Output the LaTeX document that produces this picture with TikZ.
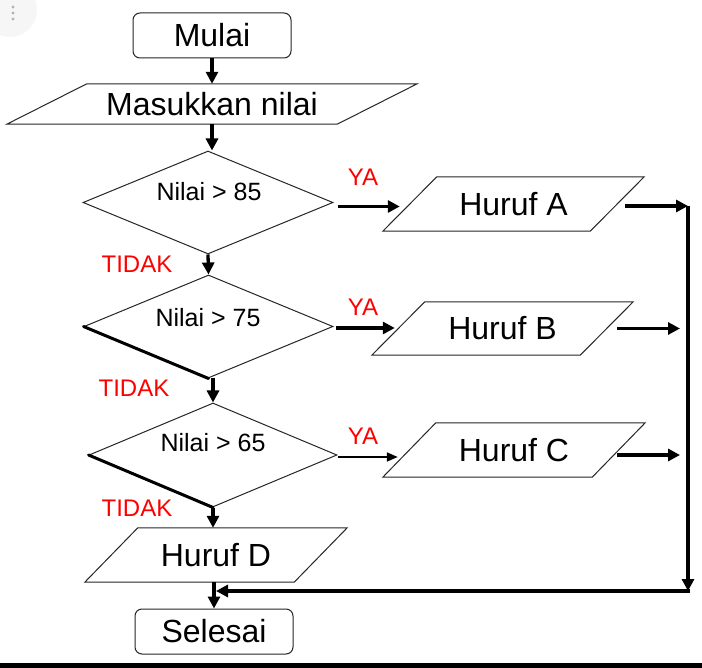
\documentclass[tikz,border=0pt]{standalone}
\usepackage{fontspec}
\setmainfont{Liberation Sans}
\usetikzlibrary{shapes.geometric,arrows.meta,calc}
\newcommand\drawpara[2]{\draw[shapeline] ([xshift=#2pt]#1.north west) -- (#1.north east) -- ([xshift=-#2pt]#1.south east) -- (#1.south west) -- cycle;}
\begin{document}
\begin{tikzpicture}[x=1pt,y=-1pt,
  box/.style={draw=black!85, line width=1pt, rounded corners=7pt, minimum width=158pt, minimum height=45pt, inner sep=0pt, font=\fontsize{32}{36}\selectfont},
  para/.style={inner sep=0pt, font=\fontsize{32}{36}\selectfont},
  dia/.style={diamond, draw=black!85, line width=1pt, inner sep=0pt},
  cond/.style={font=\fontsize{25}{30}\selectfont, inner sep=0pt},
  lbl/.style={text=red, font=\fontsize{24}{28}\selectfont, inner sep=0pt},
  shapeline/.style={draw=black!85, line width=1pt},
  flow/.style={line width=3.3pt, -{Triangle[length=12pt,width=12pt]}},
  thinflow/.style={line width=1.8pt, -{Triangle[length=11pt,width=9pt]}},
  thickedge/.style={line width=3pt, line cap=round},
]
\useasboundingbox (0,0) rectangle (702,668);
\fill[white] (0,0) rectangle (702,668);
% UI button remnant
\fill[gray!7] (10,10) circle (27);
\fill[gray!60] (13,7) circle (1.6) (13,13) circle (1.6) (13,19) circle (1.6);

% nodes
\node[box] (start) at (212,35.5) {Mulai};
\node[para, minimum width=410pt, minimum height=40pt] (input) at (212,104) {Masukkan nilai};
\node[dia, minimum width=250pt, minimum height=103pt] (d1) at (208,202.5) {};
\node[cond] (t1) at (209,192) {Nilai > 85};
\node[para, minimum width=261pt, minimum height=54pt] (hA) at (513.5,204) {Huruf A};
\node[dia, minimum width=249pt, minimum height=103pt] (d2) at (208.5,326.5) {};
\node[cond] (t2) at (208,318) {Nilai > 75};
\node[para, minimum width=261pt, minimum height=53pt] (hB) at (502.5,328.5) {Huruf B};
\node[dia, minimum width=248pt, minimum height=104pt] (d3) at (213,455) {};
\node[cond] (t3) at (213,443) {Nilai > 65};
\node[para, minimum width=262pt, minimum height=54pt] (hC) at (514,450) {Huruf C};
\node[para, minimum width=262pt, minimum height=54pt] (hD) at (216,555) {Huruf D};
\node[box] (end) at (214,631.5) {Selesai};

% parallelogram outlines
\drawpara{input}{80}
\drawpara{hA}{54}
\drawpara{hB}{53}
\drawpara{hC}{53}
\drawpara{hD}{53}

% thick lower-left edges
\draw[thickedge] (d2.west) -- (d2.south);
\draw[thickedge] (d3.west) -- (d3.south);

% labels
\node[lbl] (ya1) at (363,177) {YA};
\node[lbl] (ya2) at (363,307) {YA};
\node[lbl] (ya3) at (363,436) {YA};
\node[lbl] (no1) at (137,264) {TIDAK};
\node[lbl] (no2) at (134,388) {TIDAK};
\node[lbl] (no3) at (137,508) {TIDAK};

% main vertical flow
\draw[flow] (start.south) -- (input.north);
\draw[flow] (input.south) -- (input.south |- d1.north);
\draw[flow] (d1.south) -- (d2.north);
\draw[flow] (d3.north |- d2.south) -- (d3.north);
\draw[flow] (d3.south) -- (d3.south |- hD.north);
\draw[flow] (end.north |- hD.south) -- (end.north);

% YA branches
\draw[flow] ($(d1.east)+(4,4)$) -- ($(d1.east -| hA.west)+(17,4)$);
\draw[flow] ($(d2.east)+(2,1.5)$) -- ($(d2.east -| hB.west)+(23,1.5)$);
\draw[thinflow] ($(d3.east)+(0,2)$) -- ($(d3.east -| hC.west)+(15,2)$);

% right-hand collector
\coordinate (rtop) at (688,206);
\coordinate (rbot) at (688,591);
\draw[flow] ($(hA.east)+(-19,2)$) -- (rtop);
\draw[flow] ($(hB.east)+(-16,0)$) -- ($(hB.east -| rtop)+(-8,0)$);
\draw[flow] ($(hC.east)+(-28,5)$) -- ($(hC.east -| rtop)+(-8,5)$);
\draw[flow] (rtop) -- (rbot);
\draw[flow] ($(rbot)+(1.6,0)$) -- ($(end.north |- rbot)+(2,0)$);

% bottom bar
\fill (0,663) rectangle (702,668);
\end{tikzpicture}
\end{document}
